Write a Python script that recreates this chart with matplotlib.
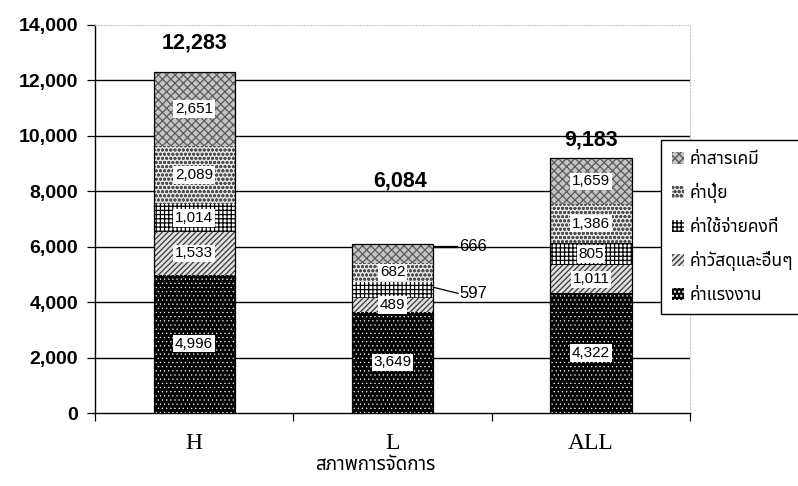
import matplotlib
matplotlib.use("Agg")
import matplotlib.pyplot as plt
from matplotlib import font_manager
from matplotlib.ft2font import FT2Font
from matplotlib.patches import Patch
from matplotlib.ticker import FuncFormatter, FixedLocator

# ---- data -------------------------------------------------------------
categories = ["H", "L", "ALL"]
labor      = [4996, 3649, 4322]   # ค่าแรงงาน
materials  = [1533, 489, 1011]    # ค่าวัสดุและอื่นๆ
fixed_cost = [1014, 597, 805]     # ค่าใช้จ่ายคงที่
fertilizer = [2089, 682, 1386]    # ค่าปุ๋ย
chemicals  = [2651, 666, 1659]    # ค่าสารเคมี
totals     = [12283, 6084, 9183]

series_names = ["ค่าแรงงาน", "ค่าวัสดุและอื่นๆ", "ค่าใช้จ่ายคงที่", "ค่าปุ๋ย", "ค่าสารเคมี"]
series_values = [labor, materials, fixed_cost, fertilizer, chemicals]
x_title = "สภาพการจัดการ"
yticks = [0, 2000, 4000, 6000, 8000, 10000, 12000, 14000]

# ---- fonts: find any installed family that can draw Thai -------------
thai_fams = []
for preferred in ["Noto Sans Thai", "Noto Sans Thai UI", "Loma", "Garuda",
                  "Norasi", "Tlwg Typo", "Kinnari", "Laksaman"]:
    if any(f.name == preferred for f in font_manager.fontManager.ttflist):
        thai_fams.append(preferred)
for f in font_manager.fontManager.ttflist:
    if f.name in thai_fams:
        continue
    try:
        if 0x0E01 in FT2Font(f.fname).get_charmap():
            thai_fams.append(f.name)
    except Exception:
        pass
sans = ["Liberation Sans"] + thai_fams + ["DejaVu Sans"]
thai = thai_fams + ["Liberation Sans", "DejaVu Sans"]
plt.rcParams["font.family"] = sans

# ---- styles per series (face, hatch colour, hatch, hatch width) -------
styles = [
    ("black",   "white",   "....",   0.4),
    ("#e0e0e0", "#3a3a3a", "//////", 0.9),
    ("white",   "black",   "++++",   0.9),
    ("#e6e6e6", "#505050", "oooo",   0.9),
    ("#c4c4c4", "#5a5a5a", "xxxx",   0.9),
]
label_inside = [
    [True, True, True],
    [True, True, True],
    [True, False, True],
    [True, True, True],
    [True, False, True],
]
total_offsets = [1070, 2290, 670]

fig = plt.figure(figsize=(7.98, 4.86), dpi=100)
ax = fig.add_axes([0.119, 0.150, 0.746, 0.799])

xpos = list(range(len(categories)))
width = 0.41
bottoms = [0, 0, 0]
bar_sets = []
for vals, (face, hc, hatch, hlw) in zip(series_values, styles):
    with plt.rc_context({"hatch.linewidth": hlw}):
        bars = ax.bar(xpos, vals, width, bottom=bottoms, color=face,
                      edgecolor=hc, hatch=hatch, linewidth=0, zorder=3)
    bar_sets.append(bars)
    bottoms = [b + v for b, v in zip(bottoms, vals)]

# outline of each stacked column
ax.bar(xpos, bottoms, width, fill=False, edgecolor="black",
       linewidth=0.9, zorder=4)

# value labels on segments
for si, (vals, bars) in enumerate(zip(series_values, bar_sets)):
    for ci, (v, rect) in enumerate(zip(vals, bars)):
        yc = rect.get_y() + rect.get_height() / 2
        if label_inside[si][ci]:
            ax.text(rect.get_x() + rect.get_width() / 2, yc, f"{v:,}",
                    ha="center", va="center", fontsize=11,
                    family=["Liberation Sans"], zorder=6,
                    bbox=dict(facecolor="white", edgecolor="none", pad=1.2))
        else:
            x_edge = rect.get_x() + rect.get_width()
            if si == 4:
                ty = yc + 250
                ax.plot([x_edge, x_edge + 0.125], [yc + 250, ty], color="black",
                        lw=1.6, zorder=5, solid_capstyle="butt")
            else:
                ty = yc - 120
                ax.plot([x_edge, x_edge + 0.125], [yc + 100, ty], color="black",
                        lw=0.9, zorder=5)
            ax.text(x_edge + 0.13, ty, f"{v:,}", ha="left", va="center",
                    fontsize=12, family=["Liberation Sans"], zorder=6)

# totals above the columns
for ci, (t, off) in enumerate(zip(totals, total_offsets)):
    ax.text(xpos[ci] + (0.04 if ci == 1 else 0), t + off, f"{t:,}",
            ha="center", va="center", fontsize=15.5, fontweight="bold",
            family=["Liberation Sans"], zorder=6)

# axes
ax.set_xlim(-0.5, 2.5)
ax.set_ylim(0, 14000)
ax.set_yticks(yticks)
ax.yaxis.set_major_formatter(FuncFormatter(lambda v, p: f"{int(v):,}"))
for lab in ax.get_yticklabels():
    lab.set_fontweight("bold")
    lab.set_fontsize(14)
ax.tick_params(axis="y", direction="out", length=6, width=0.9, pad=6)

ax.set_xticks(xpos)
ax.set_xticklabels(categories, family=["Liberation Serif"], fontsize=17)
ax.xaxis.set_minor_locator(FixedLocator([-0.5, 0.5, 1.5, 2.5]))
ax.tick_params(axis="x", which="major", length=0, pad=14)
ax.tick_params(axis="x", which="minor", direction="out", length=6, width=0.9)

for y in yticks[1:-1]:
    ax.axhline(y, color="black", lw=1.0, zorder=1)
ax.spines["left"].set_linewidth(1.0)
ax.spines["bottom"].set_linewidth(1.0)
ax.spines["top"].set_color("#c8c8c8")
ax.spines["top"].set_linestyle(":")
ax.spines["right"].set_color("#c8c8c8")
ax.spines["right"].set_linestyle(":")

ax.text(0.47, -0.134, x_title, transform=ax.transAxes, ha="center",
        va="center", fontsize=13.5, fontweight="bold", family=thai)

# legend (top series first)
handles = []
for (face, hc, hatch, hlw) in reversed(styles):
    with plt.rc_context({"hatch.linewidth": hlw}):
        handles.append(Patch(facecolor=face, edgecolor=hc, hatch=hatch, linewidth=0))
leg = fig.legend(handles, list(reversed(series_names)),
                 loc="upper left", bbox_to_anchor=(0.818, 0.73),
                 prop={"family": thai, "weight": "bold", "size": 12.5},
                 handlelength=0.7, handleheight=0.7, handletextpad=0.3,
                 labelspacing=0.85, borderpad=0.6, fancybox=False,
                 framealpha=1, edgecolor="black")
leg.get_frame().set_linewidth(1.0)

fig.savefig("out.png", dpi=100)
